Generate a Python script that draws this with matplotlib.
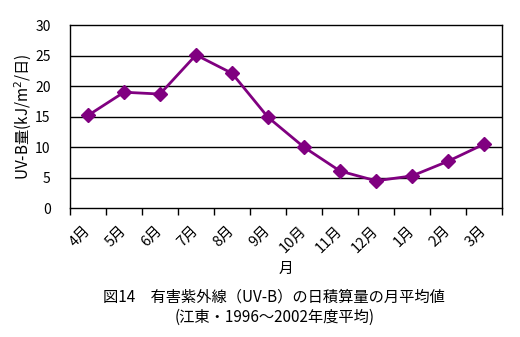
import matplotlib.pyplot as plt
import matplotlib.transforms as mtransforms
import numpy as np

plt.rcParams['font.family'] = ['Noto Sans CJK JP', 'DejaVu Sans']

months = ["4月", "5月", "6月", "7月", "8月", "9月", "10月", "11月", "12月", "1月", "2月", "3月"]
uvb = [15.2, 19.0, 18.7, 25.1, 22.1, 14.9, 10.0, 6.1, 4.5, 5.3, 7.7, 10.5]
yticks = [0, 5, 10, 15, 20, 25, 30]

fig = plt.figure(figsize=(5.2, 3.37), dpi=100)
ax = fig.add_axes([0.1346, 0.3819, 0.8308, 0.5439])

x = np.arange(len(months))
ax.plot(x, uvb, color="#800080", lw=2, marker="D", ms=7, zorder=3)

ax.set_xlim(-0.5, len(months) - 0.5)
ax.set_ylim(0, 30)
ax.set_yticks(yticks)
for y in yticks[1:-1]:
    ax.axhline(y, color="black", lw=1, zorder=1)

# tick marks sit between categories, labels go under the centres
ax.set_xticks(np.arange(len(months) + 1) - 0.5)
ax.set_xticklabels([])
ax.tick_params(axis="x", length=5, width=1, direction="out")
ax.tick_params(axis="y", length=0, pad=14, labelsize=10)

# rotated month names, nudged left so their ends sit under each point
offset = mtransforms.ScaledTranslation(-5 / 100, -15 / 100, fig.dpi_scale_trans)
for xi, m in zip(x, months):
    ax.text(xi, 0, m, transform=ax.get_xaxis_transform() + offset,
            rotation=45, ha="right", va="top", rotation_mode="anchor",
            fontsize=10.5)

for s in ax.spines.values():
    s.set_linewidth(1)

ax.set_ylabel("UV-B量(kJ/m$^2$/日)", fontsize=11, labelpad=1)
ax.set_xlabel("月", fontsize=10.5)
ax.xaxis.set_label_coords(0.5, -0.29)

fig.text(0.527, 0.118, "図14　有害紫外線（UV-B）の日積算量の月平均値",
         ha="center", va="center", fontsize=11)
fig.text(0.529, 0.058, "(江東・1996～2002年度平均)",
         ha="center", va="center", fontsize=11)

fig.savefig("out.png", dpi=100)
